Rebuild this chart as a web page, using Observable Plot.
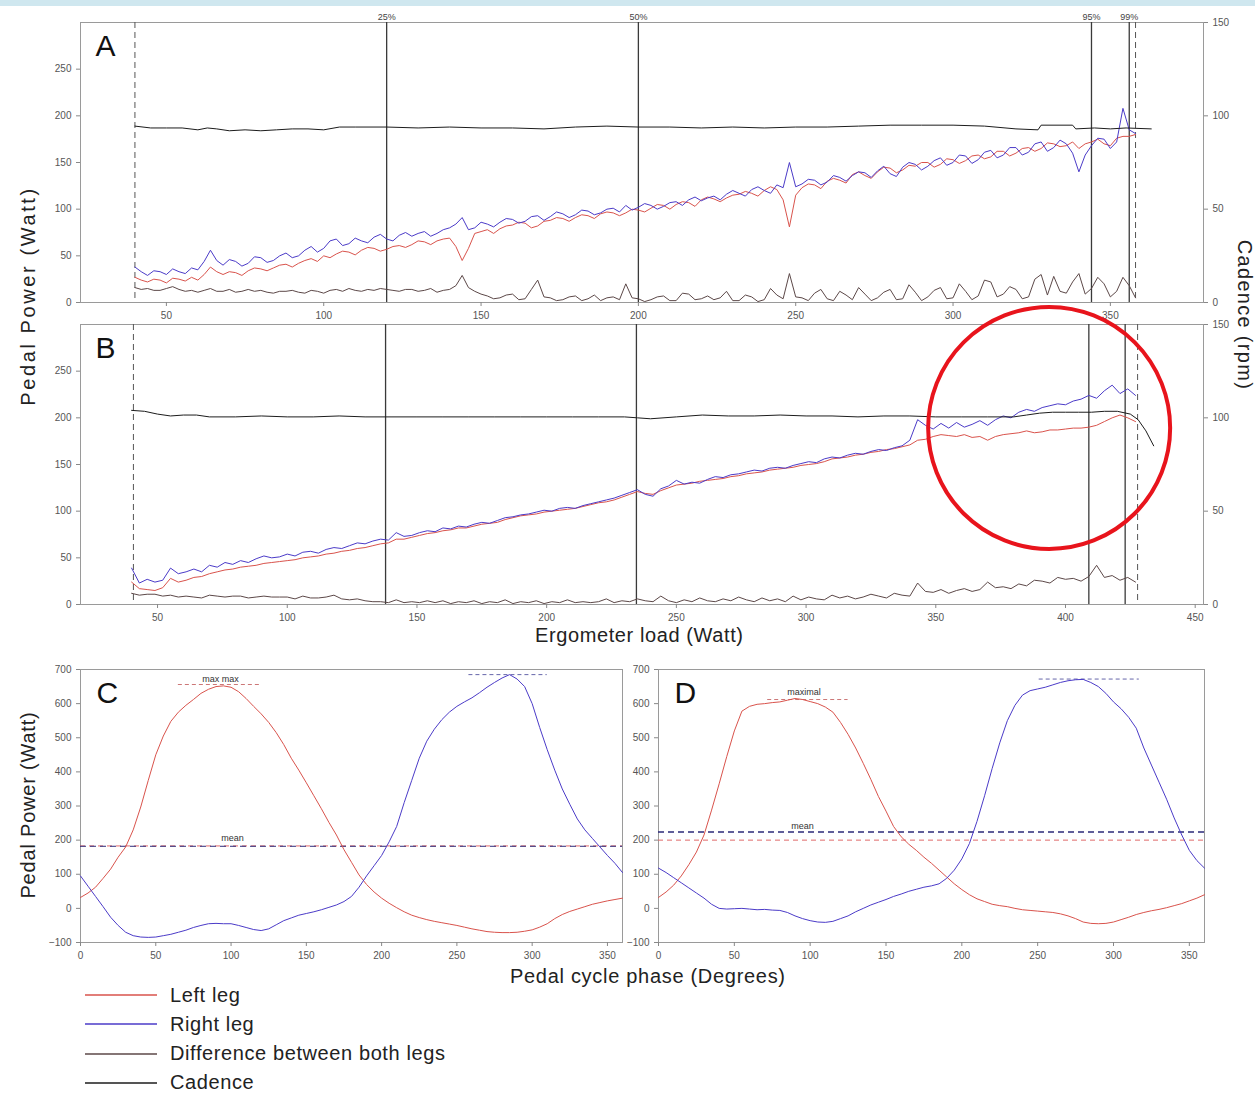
<!DOCTYPE html>
<html><head><meta charset="utf-8">
<script src="https://cdn.jsdelivr.net/npm/d3@7"></script>
<script src="https://cdn.jsdelivr.net/npm/@observablehq/plot@0.6"></script>
<style>
body{margin:0;background:#fff;font-family:"Liberation Sans",Arial,sans-serif;}
#root{position:relative;width:1255px;height:1094px;overflow:hidden;background:#fff;}
.p{position:absolute;}
.p svg{overflow:visible;display:block;}
.lbl{position:absolute;font-size:20px;color:#222;white-space:nowrap;line-height:1;}
.rot{transform:translate(-50%,-50%) rotate(-90deg);}
.rotr{transform:translate(-50%,-50%) rotate(90deg);}
.leg{position:absolute;left:85px;font-size:20px;letter-spacing:0.6px;color:#222;display:flex;align-items:center;height:22px;}
.leg span{margin-left:13px;}
</style></head><body><div id="root"><div style="position:absolute;left:0;top:0;width:1255px;height:6px;background:#cfe7ef"></div></div>
<script>
// ---------------- DATA ----------------
// Panel A: ergometer load (W), pedal power (W) of each leg, difference, cadence (rpm)
const loadA = [40,42,44,46,48,50,52,54,56,58,60,62,64,66,68,70,72,74,76,78,80,82,84,86,88,90,92,94,96,98,100,102,104,106,108,110,112,114,116,118,120,122,124,126,128,130,132,134,136,138,140,142,144,146,148,150,152,154,156,158,160,162,164,166,168,170,172,174,176,178,180,182,184,186,188,190,192,194,196,198,200,202,204,206,208,210,212,214,216,218,220,222,224,226,228,230,232,234,236,238,240,242,244,246,248,250,252,254,256,258,260,262,264,266,268,270,272,274,276,278,280,282,284,286,288,290,292,294,296,298,300,302,304,306,308,310,312,314,316,318,320,322,324,326,328,330,332,334,336,338,340,342,344,346,348,350,352,354,356,358];
const rightA = [38,33,29,34,33,30,36,33,31,37, 35,44,56,45,40,46,44,39,42,49, 48,43,45,50,53,48,50,56,60,54, 58,66,68,61,63,69,66,64,70,73, 68,66,72,75,71,74,76,71,74,78, 80,84,91,78,80,86,84,81,86,90, 89,85,87,92,93,88,92,97,95,91, 94,99,98,94,96,100,101,97,104,99, 102,106,104,100,103,107,108,104,110,113, 109,112,114,110,116,120,117,114,121,124, 120,117,126,123,150,124,127,132,131,126, 129,136,134,130,136,140,139,134,141,146, 138,135,145,150,148,142,146,152,155,147, 150,158,157,149,153,161,163,155,158,166, 166,158,161,170,172,162,166,174,170,160, 140,158,168,176,175,165,172,208,185,181];
const leftA = [27,24,22,25,24,21,26,25,23,27, 24,30,38,33,30,33,32,29,34,37, 36,34,37,40,41,38,42,45,47,44, 50,48,52,55,54,51,56,59,58,55, 57,60,61,59,62,66,65,62,66,68, 69,60,45,58,74,76,78,74,79,82, 83,86,85,80,82,87,88,91,90,87, 91,94,93,90,95,97,96,93,96,100, 99,97,101,105,104,100,105,108,107,103, 110,113,111,108,112,115,116,119,117,114, 120,124,121,110,81,115,123,127,126,122, 130,133,131,128,137,140,136,133,140,145, 144,139,142,147,146,150,150,145,148,154, 153,149,152,157,158,154,156,162,162,157, 160,165,166,162,165,171,170,167,168,172, 165,170,172,175,170,168,176,178,178,180];
const diffA = [16,14,15,13,13,15,17,14,12,13, 11,13,15,12,12,14,11,12,14,12, 13,11,10,12,12,13,11,10,13,12, 10,13,14,12,15,13,12,14,13,15, 14,13,12,14,14,12,13,15,11,13, 14,18,29,16,12,9,7,4,5,8, 9,3,4,14,24,6,5,2,3,6, 7,2,4,8,2,5,6,3,20,5, 4,1,3,6,7,2,2,10,9,3, 4,7,3,5,12,2,2,8,6,1, 3,15,8,4,31,6,5,2,10,14, 4,2,12,8,3,16,9,2,5,11, 14,3,4,19,11,2,6,13,16,4, 5,20,12,3,7,24,22,6,9,17, 14,4,6,25,30,8,28,12,10,22, 31,9,15,27,20,6,12,27,18,5];
const cadLoadA = [40,45,50,55,60,63,66,70,75,80,85,90,95,100,105,110,120,130,140,150,160,170,180,190,200,210,220,230,240,250,260,270,280,290,300,310,320,327,328,338,339,345,350,355,363];
const cadA = [94.5,93.5,93.5,93.5,92.5,93.5,93,92,92.5,92,92.5,93,93,92.5,94,94,94,93.5,94,93.5,93.5,93,94,94.5,94,94,93.5,94,93.5,94,94,94.5,95,95,95,94.5,93,92.5,95,95,93,93.5,93,93.5,93];
const markLoadA = [120,200,344,356];
const markLabels = ["25%","50%","95%","99%"];
const limitsA = [40,358];

// Panel B
const loadB = [40,43,46,49,52,55,58,61,64,67,70,73,76,79,82,85,88,91,94,97,100,103,106,109,112,115,118,121,124,127,130,133,136,139,142,145,148,151,154,157,160,163,166,169,172,175,178,181,184,187,190,193,196,199,202,205,208,211,214,217,220,223,226,229,232,235,238,241,244,247,250,253,256,259,262,265,268,271,274,277,280,283,286,289,292,295,298,301,304,307,310,313,316,319,322,325,328,331,334,337,340,343,346,349,352,355,358,361,364,367,370,373,376,379,382,385,388,391,394,397,400,403,406,409,412,415,418,421,424,427];
const rightB = [39,23,27,24,26,39,33,35,38,35, 42,40,45,43,47,45,49,52,50,51, 54,52,56,57,55,59,61,60,63,66, 65,68,70,69,77,73,74,77,79,78, 82,81,84,83,86,88,87,90,93,94, 96,97,99,101,100,103,104,103,106,108, 110,112,114,117,120,123,118,116,124,127, 133,129,131,130,134,137,136,139,140,142, 144,143,146,147,146,149,151,153,152,156, 158,157,160,162,161,164,166,165,168,170, 176,198,192,188,194,189,195,190,193,197, 192,198,202,200,206,209,207,211,213,215, 214,218,220,224,221,229,235,226,231,224];
const leftB = [24,17,16,15,18,28,24,26,29,30, 33,35,37,38,40,41,42,44,45,46, 47,48,50,51,52,54,55,57,58,60, 61,63,65,66,70,70,72,74,76,77, 79,80,82,82,84,86,87,88,91,93, 95,96,97,99,100,101,102,103,105,107, 109,110,112,115,118,121,119,118,122,125, 128,129,130,132,133,134,135,137,138,140, 141,142,144,145,146,147,149,150,151,153, 156,157,158,160,161,163,164,166,167,169, 171,176,177,180,182,181,180,182,179,180, 176,180,182,183,184,186,184,185,187,187, 188,189,189,190,192,196,200,203,200,196];
const diffB = [12,10,11,11,9,10,8,9,8,7, 10,9,8,9,9,7,8,9,8,8, 8,6,9,7,7,8,10,6,5,6, 4,3,3,2,5,2,3,2,4,2, 4,1,3,2,4,1,3,2,5,1, 3,2,4,1,3,2,5,2,3,2, 3,6,2,4,3,6,4,3,9,4, 2,5,3,7,4,3,6,4,8,5, 3,7,4,6,3,9,5,8,6,5, 10,7,9,6,8,11,9,7,12,10, 9,23,14,13,16,12,15,17,14,16, 24,18,19,17,22,20,26,25,23,29, 27,28,25,30,42,29,31,26,29,24];
const cadLoadB = [40,45,50,55,60,65,70,80,90,100,110,120,130,140,150,160,170,180,190,200,210,220,230,235,240,250,260,270,280,290,300,310,320,330,340,350,360,370,380,385,390,395,400,405,410,415,420,425,428,431,434];
const cadB = [104,103.5,102,101,101.5,101.5,100.5,100.5,101,100.5,100.5,101,100.5,100.5,100.5,100.5,100.5,100.5,100.5,100.5,100.5,100.5,100.5,100,99.5,100.5,101.5,101,101,101.5,101,101,100.5,101,101,100.5,100.5,100.5,100.5,101.5,102.5,103,103,103,103,103.5,103.5,102,99,93,85];
const markLoadB = [137.9,234.6,409,423];
const limitsB = [40.7,427.8];
const circleB = {load:393.7, power:189.2};

// Panels C & D: pedal cycle phase (degrees) vs pedal power (W)
const phase = [0,5,10,15,20,25,30,35,40,45,50,55,60,65,70,75,80,85,90,95,100,105,110,115,120,125,130,135,140,145,150,155,160,165,170,175,180,185,190,195,200,205,210,215,220,225,230,235,240,245,250,255,260,265,270,275,280,285,290,295,300,305,310,315,320,325,330,335,340,345,350,355,360];
const leftC = [32,45,62,88,115,150,180,230,297,375,450,505,548,575,595,612,630,642,650,652,648,635,615,592,570,545,515,480,440,405,368,330,292,252,215,172,135,98,70,48,30,15,2,-10,-20,-27,-33,-38,-42,-46,-50,-55,-60,-64,-68,-70,-71,-71,-70,-67,-63,-55,-45,-30,-18,-9,-2,5,12,17,22,26,30];
const rightC = [95,65,35,5,-26,-50,-70,-80,-84,-85,-84,-80,-76,-70,-64,-56,-50,-45,-44,-45,-45,-50,-56,-62,-65,-60,-48,-36,-28,-20,-15,-10,-4,3,10,20,35,62,95,125,155,195,240,310,375,440,490,525,553,575,592,605,617,632,648,662,675,685,672,650,600,530,465,405,350,305,262,230,205,180,155,132,105];
const leftD = [32,48,68,95,128,165,215,288,365,445,520,578,592,598,600,603,605,610,615,612,606,600,590,575,545,510,470,425,378,328,285,240,210,188,170,150,132,112,92,72,55,40,28,20,12,8,5,0,-4,-6,-8,-10,-12,-16,-22,-30,-40,-44,-45,-44,-40,-33,-26,-18,-12,-7,-3,2,8,14,22,30,40];
const rightD = [118,105,90,75,60,45,30,12,0,-2,-1,0,-2,-4,-3,-5,-6,-12,-22,-30,-36,-40,-41,-38,-30,-22,-10,0,10,18,26,35,42,50,56,62,66,72,88,112,145,190,255,330,410,485,550,595,625,638,643,648,655,662,667,670,671,662,650,630,605,585,560,528,470,420,370,320,265,215,170,140,118];
const meanC = {left:183, right:182};
const meanD = {left:200, right:224};
const maxC = {left:{y:656,x1:65,x2:120}, right:{y:685,x1:258,x2:310}};
const maxD = {left:{y:612,x1:72,x2:125}, right:{y:672,x1:251,x2:317}};

const ticksA = [50,100,150,200,250,300,350];
const ticksB = [50,100,150,200,250,300,350,400,450];
const ticksPowerLeft = [0,50,100,150,200,250];
const ticksCadence = [0,50,100,150];
const ticksPhase = [0,50,100,150,200,250,300,350];
const ticksPhaseY = [-100,0,100,200,300,400,500,600,700];

// ---------------- DRAWING ----------------
const RED = "#d9534c", BLUE = "#4b3bc8", DIFF = "#5c4848", CAD = "#1c1c1c";
const root = document.getElementById("root");
function place(el, left, top){
  const d = document.createElement("div"); d.className = "p";
  d.style.left = left + "px"; d.style.top = top + "px";
  d.appendChild(el); root.appendChild(d);
}
function label(text, x, y, cls, spacing){
  const d = document.createElement("div"); d.className = "lbl " + (cls || "");
  d.textContent = text; d.style.left = x + "px"; d.style.top = y + "px";
  if (spacing != null) d.style.letterSpacing = spacing + "px";
  root.appendChild(d);
}
const style = {fontSize:"10px", fontFamily:"Liberation Sans, Arial, sans-serif", color:"#555", background:"transparent", overflow:"visible"};
const pts = (xs, ys, k=1) => xs.map((x,i)=>({x, y: ys[i]*k})).filter(d => d.y != null && !isNaN(d.y));

function loadPanel(o){
  const marks = [
    Plot.frame({stroke:"#9a9a9a"}),
    Plot.axisY({ticks: ticksPowerLeft, tickSize:4, label:null, stroke:"#888"}),
    Plot.axisY({anchor:"right", ticks: ticksCadence.map(c=>c*2), tickFormat: d=>d/2, tickSize:4, label:null, stroke:"#888"}),
    Plot.axisX({ticks: o.ticks, tickSize:4, label:null, stroke:"#888"}),
    Plot.ruleX(o.limits, {stroke:"#555", strokeDasharray:"6,4", strokeWidth:1}),
    Plot.ruleX(o.marks, {stroke:"#3a3a3a", strokeWidth:1.3}),
    Plot.line(pts(o.load, o.diff), {x:"x", y:"y", stroke:DIFF, strokeWidth:1}),
    Plot.line(pts(o.load, o.left), {x:"x", y:"y", stroke:RED, strokeWidth:1}),
    Plot.line(pts(o.load, o.right), {x:"x", y:"y", stroke:BLUE, strokeWidth:1}),
    Plot.line(pts(o.cadLoad, o.cad, 2), {x:"x", y:"y", stroke:CAD, strokeWidth:1}),
    Plot.text([o.letter], {frameAnchor:"top-left", dx:15, dy:12, lineAnchor:"top", textAnchor:"start", fontSize:30, fill:"#111", text:d=>d})
  ];
  if (o.pct) marks.push(Plot.text(o.marks.map((x,i)=>({x, t:markLabels[i]})), {x:"x", text:"t", frameAnchor:"top", dy:-9, fontSize:9, fill:"#444"}));
  if (o.circle) marks.push(Plot.dot([o.circle], {x:"load", y:"power", r:121, stroke:"#e8141c", strokeWidth:4, fill:"none"}));
  return Plot.plot({
    width:1255, height:330, marginLeft:80, marginRight:52, marginTop:22, marginBottom:28,
    x:{domain:o.domain}, y:{domain:[0,300]}, style, marks
  });
}

place(loadPanel({load:loadA, left:leftA, right:rightA, diff:diffA, cadLoad:cadLoadA, cad:cadA,
  domain:[22.7,379.6], ticks:ticksA, limits:limitsA, marks:markLoadA, letter:"A", pct:true}), 0, 0);
place(loadPanel({load:loadB, left:leftB, right:rightB, diff:diffB, cadLoad:cadLoadB, cad:cadB,
  domain:[20.3,453.2], ticks:ticksB, limits:limitsB, marks:markLoadB, letter:"B", circle:circleB}), 0, 302);

function phasePanel(o){
  return Plot.plot({
    width:o.width, height:321, marginLeft:o.ml, marginRight:o.mr, marginTop:22, marginBottom:26,
    x:{domain:[0,360]}, y:{domain:[-100,700]}, style,
    marks:[
      Plot.frame({stroke:"#9a9a9a"}),
      Plot.axisY({ticks:ticksPhaseY, tickSize:4, label:null, stroke:"#888"}),
      Plot.axisX({ticks:ticksPhase, tickSize:4, label:null, stroke:"#888"}),
      Plot.ruleY([o.mean.left], {stroke:"#e06a6a", strokeDasharray:"5,4", strokeWidth:1}),
      Plot.ruleY([o.mean.right], {stroke:"#2b2a7a", strokeDasharray:"6,4", strokeWidth:o.meanW}),
      Plot.ruleY([o.max.left], {y:"y", x1:"x1", x2:"x2", stroke:"#c77", strokeDasharray:"4,3", strokeWidth:1}),
      Plot.ruleY([o.max.right], {y:"y", x1:"x1", x2:"x2", stroke:"#66a", strokeDasharray:"4,3", strokeWidth:1}),
      Plot.line(pts(phase, o.left), {x:"x", y:"y", stroke:RED, strokeWidth:1}),
      Plot.line(pts(phase, o.right), {x:"x", y:"y", stroke:BLUE, strokeWidth:1}),
      Plot.text(o.notes, {x:"x", y:"y", text:"t", fontSize:9, fill:"#333"}),
      Plot.text([o.letter], {frameAnchor:"top-left", dx:16, dy:12, lineAnchor:"top", textAnchor:"start", fontSize:30, fill:"#111", text:d=>d})
    ]
  });
}
place(phasePanel({width:640, ml:80, mr:18, left:leftC, right:rightC, mean:meanC, meanW:1, max:maxC, letter:"C",
  notes:[{x:93, y:673, t:"max max"}, {x:101, y:205, t:"mean"}]}), 0, 647);
place(phasePanel({width:635, ml:38, mr:51, left:leftD, right:rightD, mean:meanD, meanW:1.6, max:maxD, letter:"D",
  notes:[{x:96, y:633, t:"maximal"}, {x:95, y:240, t:"mean"}]}), 620, 647);

// axis titles
label("Pedal Power (Watt)", 28, 296, "rot", 2.6);
label("Cadence (rpm)", 1245, 315, "rotr", 1.3);
label("Ergometer load (Watt)", 535, 625, "", 0.6);
label("Pedal cycle phase (Degrees)", 510, 966, "", 0.7);
label("Pedal Power (Watt)", 28, 805, "rot", 0.8);

// legend
const legendItems = [["Left leg", RED], ["Right leg", BLUE], ["Difference between both legs", DIFF], ["Cadence", CAD]];
legendItems.forEach(([t,c],i)=>{
  const d = document.createElement("div"); d.className = "leg";
  d.style.top = (984 + i*29.3) + "px";
  d.innerHTML = `<svg width="72" height="4"><line x1="0" y1="2" x2="72" y2="2" stroke="${c}" stroke-width="1.3"/></svg><span>${t}</span>`;
  root.appendChild(d);
});
</script></body></html>
